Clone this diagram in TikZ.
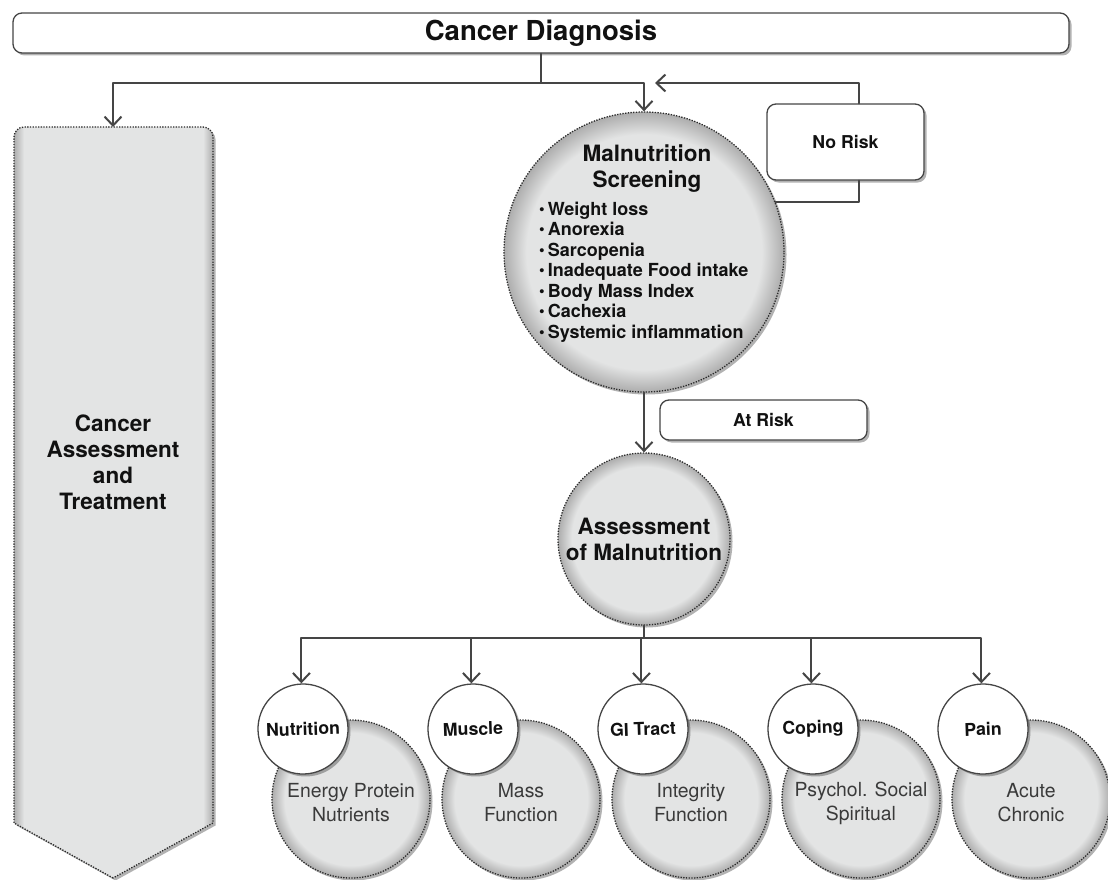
\documentclass[tikz,border=0pt]{standalone}
\usepackage{fontspec}
\setmainfont{TeX Gyre Heros}
\usepackage{xcolor}
\usepackage{tikz}
\usetikzlibrary{arrows.meta,shadows}
\definecolor{mnInk}{HTML}{111111}
\definecolor{mnLine}{HTML}{454545}
\definecolor{mnDots}{HTML}{2B2B2B}
\definecolor{mnFill}{HTML}{E3E4E4}
\definecolor{mnRim}{HTML}{ADADAD}
\definecolor{mnSoft}{HTML}{3A3A3A}
\pgfdeclareradialshading{mnball}{\pgfpointorigin}{color(0bp)=(mnFill); color(21bp)=(mnFill); color(25bp)=(mnRim); color(50bp)=(mnRim)}
\pgfdeclarehorizontalshading{mnbar}{100bp}{color(0bp)=(mnRim); color(25bp)=(mnRim); color(27.5bp)=(mnFill); color(72.5bp)=(mnFill); color(75bp)=(mnRim); color(100bp)=(mnRim)}
\tikzset{
  mn diagram/.style={x=1pt, y=-1pt, text=mnInk, line cap=round, line join=round},
  mn shadow/.style={drop shadow={shadow xshift=2.5pt, shadow yshift=-2.5pt, opacity=0.3, fill=black}},
  mn box/.style={draw=mnLine, fill=white, line width=1.3pt, rounded corners=9pt,
    inner sep=0pt, align=center, font=\fontsize{17.7}{20}\selectfont\bfseries, mn shadow},
  mn ball/.style={circle, draw=mnDots, line width=1.3pt, line cap=butt,
    dash pattern=on 1.3pt off 1.4pt, shading=mnball, inner sep=0pt, mn shadow},
  mn topic/.style={circle, draw=mnLine, line width=1.3pt, fill=white, inner sep=0pt,
    minimum size=90pt, font=\fontsize{17.7}{20}\selectfont\bfseries, mn shadow},
  mn title/.style={align=center, inner sep=0pt, font=\fontsize{22.5}{26}\selectfont\bfseries},
  mn item/.style={anchor=base west, inner sep=0pt, font=\fontsize{18}{20.5}\selectfont\bfseries},
  mn detail/.style={align=center, inner sep=0pt, text=mnSoft, font=\fontsize{19.4}{24}\selectfont},
  mn line/.style={draw=mnLine, line width=2pt},
  mn arrow/.style={mn line, -{Straight Barb[length=9pt, width=17pt]}}
}
\newcommand{\mnbullet}{\raisebox{1pt}{\fontsize{16}{16}\selectfont\char"2022}\,}

\begin{document}
\begin{tikzpicture}[mn diagram]
\useasboundingbox (0,0) rectangle (1108,880);

% header and the cancer track
\node[mn box, minimum width=1056pt, minimum height=40pt, font=\fontsize{27.5}{30}\selectfont\bfseries] (dx) at (541,33) {Cancer Diagnosis};
\path[draw=mnDots, line width=1.3pt, line cap=butt, dash pattern=on 1.3pt off 1.4pt, shade, shading=mnbar, mn shadow]
  (113,878) -- (14,823) [rounded corners=10pt] -- (14,127) -- (213,127) [sharp corners] -- (213,823) -- cycle;
\coordinate (catTop) at (113,127);
\node[mn title] (cat) at (113,462) {Cancer\\Assessment\\and\\Treatment};
\coordinate (split) at (541,83);
\draw[mn line] (dx.south) -- (split);
\draw[mn arrow] (split) -| (catTop);

% screening with the no risk loop
\node[mn ball, minimum size=280pt] (scr) at (644,252) {};
\draw[mn arrow] (split) -| (scr.north);
\node[mn title] (scrT) at (647,169) {Malnutrition\\Screening};
\foreach \t [count=\i from 0] in {Weight loss, Anorexia, Sarcopenia, Inadequate Food intake, Body Mass Index, Cachexia, Systemic inflammation}
  \node[mn item] (scr\i) at (539,215+20.5*\i) {\mnbullet\t};
\node[mn box, minimum width=157pt, minimum height=76pt] (nr) at (845.5,142) {No Risk};
\coordinate (back) at (655,83);
\draw[mn arrow] ([xshift=13.5pt]nr.north) |- (back);
\draw[mn line] ([xshift=13.5pt]nr.south) |- (scr.21.8);

% at risk -> assessment
\node[mn box, minimum width=207pt, minimum height=40pt] (ar) at (763.5,420) {At Risk};
\node[mn ball, mn title, minimum size=172pt] (ass) at (644,539) {Assessment\\of Malnutrition};
\draw[mn arrow] (scr.south) -- (ass.north);

% five domains
\coordinate (fork) at (644,638);
\draw[mn line] (ass.south) -- (fork);
\foreach \a/\b [count=\i from 0] in {Energy Protein/Nutrients, Mass/Function, Integrity/Function, Psychol. Social/Spiritual, Acute/Chronic} {
  \node[mn ball, minimum size=158pt] (d\i) at (351+170*\i,799) {};
  \node[mn detail] (dt\i) at ([yshift=-4pt]d\i.center) {\a\\\b};
}
\foreach \lab [count=\i from 0] in {Nutrition, Muscle, GI Tract, Coping, Pain} {
  \node[mn topic, rotate=2] (t\i) at (303+170*\i,729) {\lab};
  \draw[mn arrow] (fork) -| (t\i.north);
}
\end{tikzpicture}
\end{document}
